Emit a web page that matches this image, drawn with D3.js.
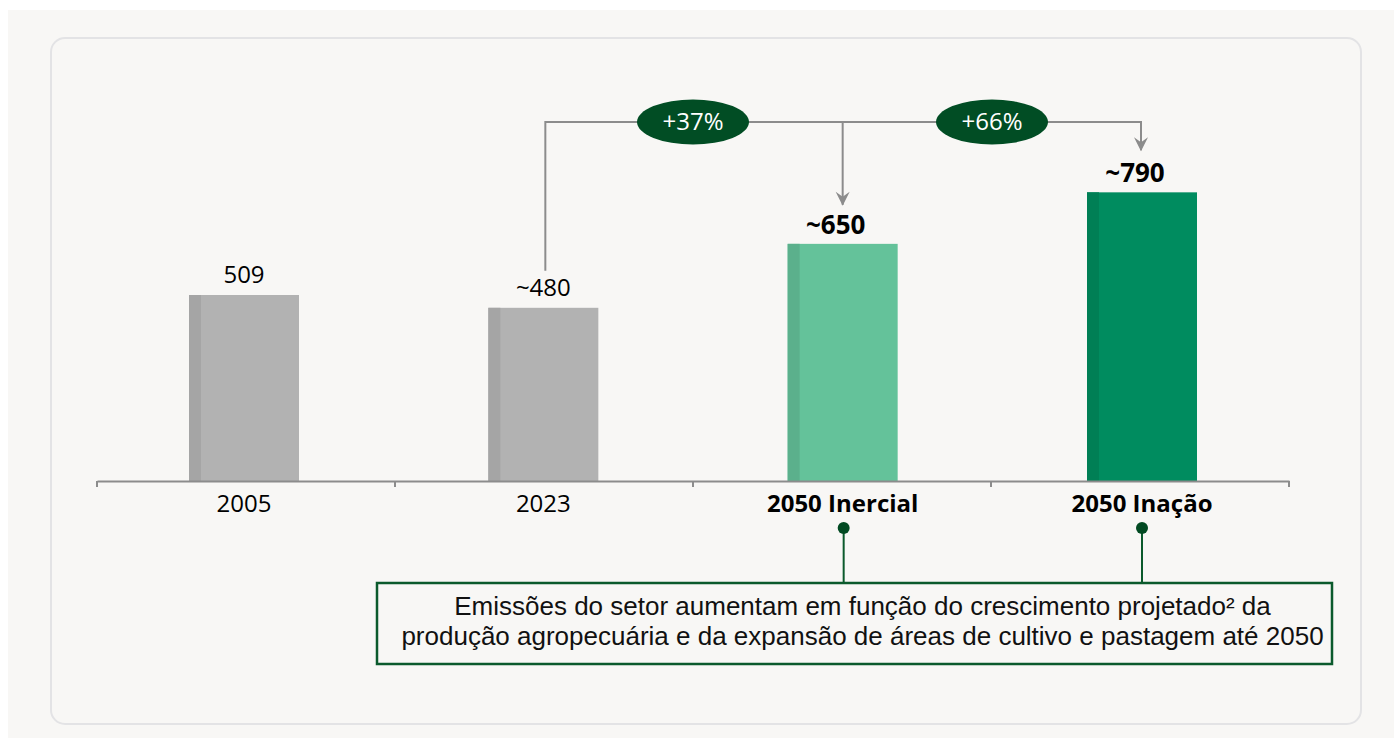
<!DOCTYPE html>
<html>
<head>
<meta charset="utf-8">
<script src="https://cdn.jsdelivr.net/npm/d3@7"></script>
<style>
  html, body { margin: 0; padding: 0; background: #ffffff; }
  svg { display: block; font-family: "Open Sans", sans-serif; }
</style>
</head>
<body>
<div id="chart"></div>
<script>
// DATA
const categories = ["2005", "2023", "2050 Inercial", "2050 Inação"];
const values = [509, 474, 649, 790];
const valueLabels = ["509", "~480", "~650", "~790"];
const boldFlags = [false, false, true, true];
const barColors = ["#b2b2b2", "#b2b2b2", "#64c29a", "#008c5f"];
const stripColors = ["#a5a5a5", "#a5a5a5", "#5bb08c", "#007f55"];
const growthLabels = ["+37%", "+66%"];
const noteLines = [
    "Emissões do setor aumentam em função do crescimento projetado² da",
    "produção agropecuária e da expansão de áreas de cultivo e pastagem até 2050"
];

const W = 1394, H = 738;
const svg = d3.select("#chart").append("svg")
    .attr("width", W)
    .attr("height", H);

// background + card
svg.append("rect").attr("x", 8).attr("y", 10).attr("width", W - 8).attr("height", H - 10)
    .attr("fill", "#f8f7f5");
svg.append("rect").attr("x", 51).attr("y", 38).attr("width", 1310).attr("height", 686)
    .attr("rx", 14).attr("fill", "#f8f7f5").attr("stroke", "#e3e3e5").attr("stroke-width", 2);

// SCALES
const baseY = 481;
const xScale = d3.scaleBand()
    .domain(categories)
    .range([97, 1289])
    .paddingInner(0)
    .paddingOuter(0);

// bar centres sit slightly wider apart than the axis bands
const barX = d3.scalePoint()
    .domain(categories)
    .range([244, 1142]);

const yScale = d3.scaleLinear()
    .domain([0, 800])
    .range([baseY, baseY - 800 * 0.3654]);

const barW = 110, stripW = 12;

// BARS
const bars = svg.append("g");
categories.forEach((c, i) => {
    const x0 = barX(c) - barW / 2;
    bars.append("rect")
        .attr("x", x0).attr("y", yScale(values[i]))
        .attr("width", barW).attr("height", baseY - yScale(values[i]))
        .attr("fill", barColors[i]);
    bars.append("rect")
        .attr("x", x0).attr("y", yScale(values[i]))
        .attr("width", stripW).attr("height", baseY - yScale(values[i]))
        .attr("fill", stripColors[i]);
    bars.append("text")
        .attr("x", barX(c) + (boldFlags[i] ? -7 : 0))
        .attr("y", yScale(values[i]) - (boldFlags[i] ? 10 : 12))
        .attr("text-anchor", "middle")
        .attr("font-size", boldFlags[i] ? "26px" : "24px")
        .attr("font-weight", boldFlags[i] ? "bold" : "normal")
        .attr("fill", "#000")
        .text(valueLabels[i]);
});

// AXIS
const axis = svg.append("g")
    .attr("transform", `translate(0, ${baseY})`)
    .call(d3.axisBottom(xScale).tickSize(0).tickFormat(""));
axis.select(".domain").attr("stroke", "#8c8c8c").attr("stroke-width", 2);
axis.selectAll(".tick").remove();
const edges = [...categories.map(c => xScale(c)), xScale.range()[1]];
edges.forEach(x => {
    axis.append("line").attr("x1", x).attr("x2", x).attr("y1", 0).attr("y2", 6)
        .attr("stroke", "#8c8c8c").attr("stroke-width", 2);
});
categories.forEach((c, i) => {
    svg.append("text")
        .attr("x", barX(c))
        .attr("y", 512)
        .attr("text-anchor", "middle")
        .attr("font-size", "24px")
        .attr("font-weight", boldFlags[i] ? "bold" : "normal")
        .attr("fill", "#000")
        .text(c);
});

// CONNECTORS
const lineY = 122;
const grey = "#8c8c8c";
const conn = svg.append("g").attr("fill", "none").attr("stroke", grey).attr("stroke-width", 2);
const x2023 = barX(categories[1]) + 2, xIn = barX(categories[2]), xIa = barX(categories[3]) - 1;
conn.append("path")
    .attr("d", `M${x2023},${yScale(values[1]) - 37} V${lineY} H${xIa} V${yScale(values[3]) - 42}`);
conn.append("path")
    .attr("d", `M${xIn},${lineY} V${yScale(values[2]) - 39}`);

function arrowHead(x, tipY) {
    svg.append("path")
        .attr("d", `M${x},${tipY} L${x - 7},${tipY - 14} L${x},${tipY - 9} L${x + 7},${tipY - 14} Z`)
        .attr("fill", grey);
}
arrowHead(xIn, yScale(values[2]) - 38);
arrowHead(xIa, yScale(values[3]) - 41);

// GROWTH BUBBLES
[693, 992].forEach((bx, i) => {
    svg.append("ellipse")
        .attr("cx", bx).attr("cy", lineY)
        .attr("rx", 56).attr("ry", 22.5)
        .attr("fill", "#014d24");
    svg.append("text")
        .attr("x", bx).attr("y", lineY + 8)
        .attr("text-anchor", "middle")
        .attr("font-size", "24px")
        .attr("fill", "#ffffff")
        .text(growthLabels[i]);
});

// NOTE BOX
const boxX = 377, boxY = 583, boxW = 955, boxH = 81;
const dark = "#0b5a2c";
[xIn, xIa].forEach(x => {
    svg.append("line").attr("x1", x + 1).attr("x2", x + 1).attr("y1", 528).attr("y2", boxY)
        .attr("stroke", dark).attr("stroke-width", 2);
    svg.append("circle").attr("cx", x + 1).attr("cy", 528).attr("r", 6).attr("fill", "#024a22");
});
svg.append("rect")
    .attr("x", boxX).attr("y", boxY).attr("width", boxW).attr("height", boxH)
    .attr("fill", "#f8f7f5").attr("stroke", dark).attr("stroke-width", 2.5);
noteLines.forEach((t, i) => {
    svg.append("text")
        .attr("x", boxX + boxW / 2 + 8)
        .attr("y", 615 + i * 29.5)
        .attr("text-anchor", "middle")
        .attr("font-family", "'Liberation Sans', Arial, sans-serif")
        .attr("font-size", "26px")
        .attr("fill", "#111")
        .text(t);
});
</script>
</body>
</html>
